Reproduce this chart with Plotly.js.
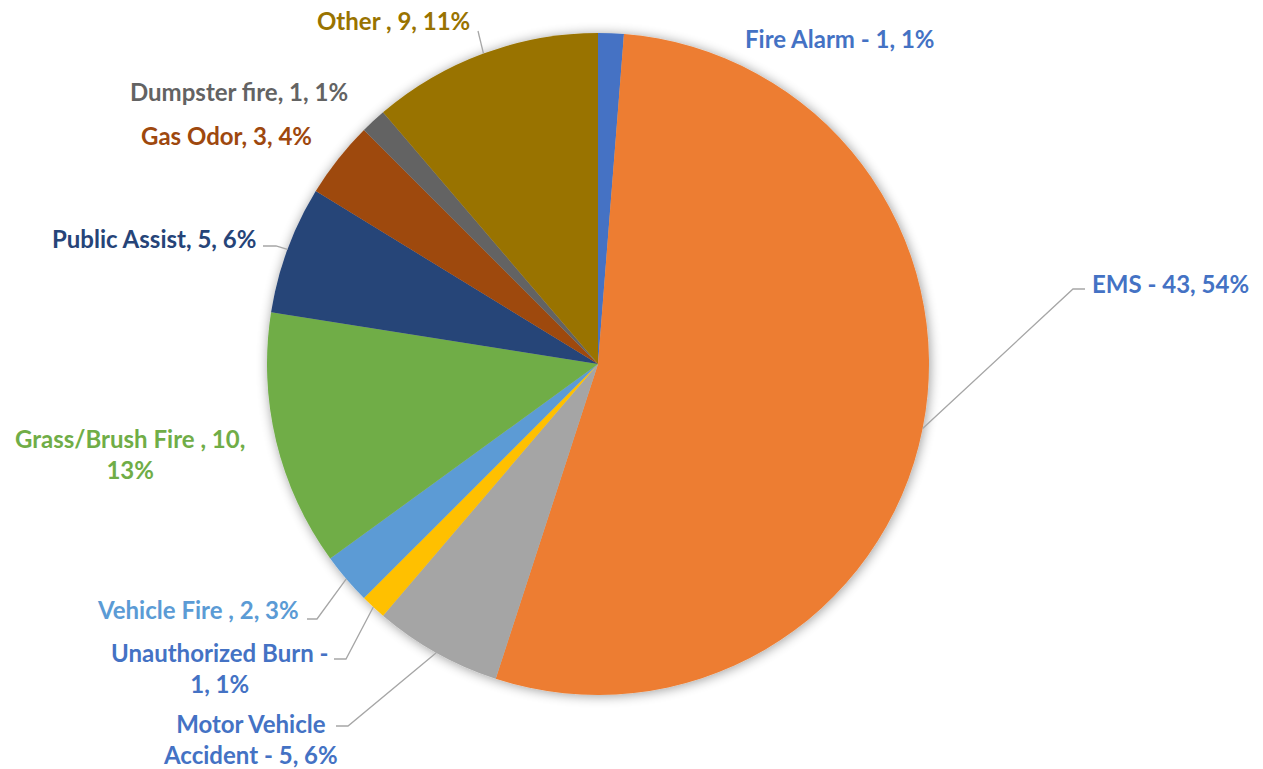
<!DOCTYPE html>
<html><head><meta charset="utf-8">
<script src="https://cdn.plot.ly/plotly-3.0.1.min.js"></script>
<style>html,body{margin:0;padding:0;background:#fff;} #chart{width:1263px;height:769px;}</style>
</head><body>
<div id="chart"></div>
<script>
// ---- data ----
const categories = ["Fire Alarm", "EMS", "Motor Vehicle Accident", "Unauthorized Burn", "Vehicle Fire", "Grass/Brush Fire", "Public Assist", "Gas Odor", "Dumpster fire", "Other"];
const values = [1, 43, 5, 1, 2, 10, 5, 3, 1, 9];
const labelPrefixes = ["Fire Alarm - ", "EMS - ", "Motor Vehicle<br>Accident - ", "Unauthorized Burn -<br>", "Vehicle Fire , ", "Grass/Brush Fire , ", "Public Assist, ", "Gas Odor, ", "Dumpster fire, ", "Other , "];
const labelSeparators = [", ", ", ", ", ", ", ", ", ", ",<br>", ", ", ", ", ", ", ", "];
const sliceColors = ["#4472C4", "#ED7D31", "#A5A5A5", "#FFC000", "#5B9BD5", "#70AD47", "#264478", "#9E480E", "#636363", "#997300"];
const labelColors = ["#4472C4", "#4472C4", "#4472C4", "#4472C4", "#5B9BD5", "#70AD47", "#264478", "#9E480E", "#636363", "#997300"];

// ---- layout geometry (pixels) ----
const W = 1263, H = 769;
const CX = 598, CY = 364, R = 331;
// label anchor and leader-line elbow points
const labelLayout = [
  {x: 743, y: 38, xa: 'left', elbow: null},
  {x: 1090, y: 283, xa: 'left', elbow: [[1085, 289], [1073, 289]]},
  {x: 340, y: 739, xa: 'right', elbow: [[336, 726], [348, 726]]},
  {x: 330, y: 668, xa: 'right', elbow: [[334, 659], [346, 659]]},
  {x: 301, y: 609, xa: 'right', elbow: [[307, 619], [317, 619]]},
  {x: 247, y: 454, xa: 'right', elbow: null},
  {x: 258, y: 239, xa: 'right', elbow: [[263, 246], [276, 246]]},
  {x: 314, y: 135, xa: 'right', elbow: null},
  {x: 350, y: 92, xa: 'right', elbow: null},
  {x: 472, y: 21, xa: 'right', elbow: [[478, 31]]}
];

const px = x => x / W;
const py = y => 1 - y / H;

const total = values.reduce((a, b) => a + b, 0);
const annotations = [];
const shapes = [];
let cum = 0;
values.forEach((v, i) => {
  const mid = (cum + v / 2) / total * 2 * Math.PI;
  cum += v;
  const pct = Math.round(v / total * 100);
  const L = labelLayout[i];
  annotations.push({
    xref: 'paper', yref: 'paper', x: px(L.x), y: py(L.y),
    xanchor: L.xa, yanchor: 'middle', align: 'center', showarrow: false,
    text: labelPrefixes[i] + v + labelSeparators[i] + pct + '%',
    font: {family: 'Lato, "Open Sans", sans-serif', size: 24, weight: 700, color: labelColors[i]}
  });
  if (L.elbow) {
    const ex = CX + R * Math.sin(mid), ey = CY - R * Math.cos(mid);
    const pts = L.elbow.concat([[ex, ey]]);
    const path = pts.map((p, k) => (k ? 'L' : 'M') + px(p[0]) + ',' + py(p[1])).join(' ');
    shapes.push({type: 'path', xref: 'paper', yref: 'paper', path: path,
      line: {color: '#A6A6A6', width: 1.3}});
  }
});

const data = [{
  type: 'pie',
  labels: categories,
  values: values,
  sort: false,
  direction: 'clockwise',
  rotation: 0,
  textinfo: 'none',
  hoverinfo: 'label+value+percent',
  marker: {colors: sliceColors, line: {width: 0}},
  domain: {x: [(CX - R) / W, (CX + R) / W], y: [1 - (CY + R) / H, 1 - (CY - R) / H]}
}];

const layout = {
  width: W, height: H,
  margin: {l: 0, r: 0, t: 0, b: 0},
  paper_bgcolor: '#ffffff',
  showlegend: false,
  annotations: annotations,
  shapes: shapes
};

Plotly.newPlot('chart', data, layout, {displayModeBar: false, staticPlot: true}).then(gd => {
  const NS = 'http://www.w3.org/2000/svg';
  const svg = gd.querySelector('svg.main-svg');
  let defs = svg.querySelector('defs');
  if (!defs) { defs = document.createElementNS(NS, 'defs'); svg.insertBefore(defs, svg.firstChild); }
  const f = document.createElementNS(NS, 'filter');
  f.setAttribute('id', 'pieShadow');
  f.setAttribute('filterUnits', 'userSpaceOnUse');
  f.setAttribute('x', '0'); f.setAttribute('y', '0');
  f.setAttribute('width', String(W)); f.setAttribute('height', String(H));
  f.innerHTML = '<feGaussianBlur in="SourceAlpha" stdDeviation="6" result="blur"/>' +
    '<feOffset in="blur" dx="1" dy="1" result="off"/>' +
    '<feComponentTransfer in="off" result="soft"><feFuncA type="linear" slope="0.4"/></feComponentTransfer>' +
    '<feMerge><feMergeNode in="soft"/><feMergeNode in="SourceGraphic"/></feMerge>';
  defs.appendChild(f);
  gd.querySelectorAll('.pielayer .trace').forEach(g => g.setAttribute('filter', 'url(#pieShadow)'));
});
</script>
</body></html>
